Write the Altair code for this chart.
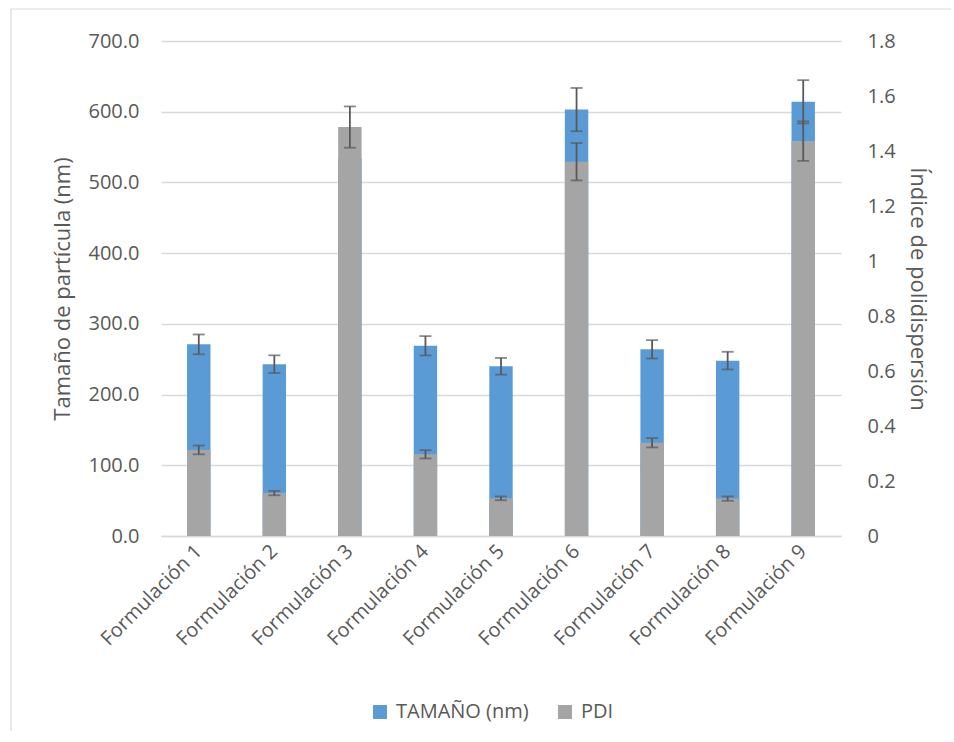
import altair as alt
import pandas as pd

# Mean particle size (nm) and polydispersity index per formulation, with their errors
formulaciones = [f"Formulación {i}" for i in range(1, 10)]
tamano = [271, 243, 534, 269, 240, 603, 264, 248, 614]
tamano_err = [14, 12.5, 30, 13.7, 11.8, 30.6, 13, 12.5, 30.6]
pdi = [0.313, 0.156, 1.487, 0.297, 0.137, 1.361, 0.339, 0.136, 1.436]
pdi_err = [0.016, 0.008, 0.075, 0.015, 0.007, 0.068, 0.017, 0.008, 0.072]

df = pd.DataFrame({
    "formulacion": formulaciones,
    "tam": tamano,
    "tam_lo": [v - e for v, e in zip(tamano, tamano_err)],
    "tam_hi": [v + e for v, e in zip(tamano, tamano_err)],
    "pdi": pdi,
    "pdi_lo": [v - e for v, e in zip(pdi, pdi_err)],
    "pdi_hi": [v + e for v, e in zip(pdi, pdi_err)],
})

W, H = 680, 495
FONT = "Open Sans"
TXT = "#595959"
GRID = "#d9d9d9"
ERR = "#595959"

x_enc = alt.X(
    "formulacion:N", sort=formulaciones,
    scale=alt.Scale(paddingInner=0.69, paddingOuter=0.345),
    axis=alt.Axis(title=None, labelAngle=-45, labelAlign="right", labelBaseline="middle",
                  labelPadding=12, ticks=False, domainColor=GRID, domainWidth=1.3,
                  labelFontSize=20, labelColor=TXT, labelFont=FONT, grid=False),
)

left_scale = alt.Scale(domain=[0, 700])
left_axis = alt.Axis(title="Tamaño de partícula (nm)", values=list(range(0, 701, 100)),
                     format=".1f", grid=True, gridColor=GRID, gridWidth=1.3, domain=False,
                     ticks=False, labelPadding=22, labelFontSize=20, labelColor=TXT,
                     labelFont=FONT, titleFont=FONT, titleFontSize=22, titleColor=TXT,
                     titleFontWeight="normal", titlePadding=14)

right_scale = alt.Scale(domain=[0, 1.8])
right_axis = alt.Axis(title="Índice de polidispersión", orient="right",
                      values=[0, 0.2, 0.4, 0.6, 0.8, 1.0, 1.2, 1.4, 1.6, 1.8],
                      format=".1~f", grid=False, domain=False, ticks=False, labelPadding=26,
                      labelFontSize=20, labelColor=TXT, labelFont=FONT, titleFont=FONT,
                      titleFontSize=22, titleColor=TXT, titleFontWeight="normal",
                      titlePadding=10)

color_enc = alt.Color(
    "serie:N",
    scale=alt.Scale(domain=["TAMAÑO (nm)", "PDI"], range=["#5b9bd5", "#a5a5a5"]),
    legend=alt.Legend(title=None, orient="none", legendX=209, legendY=661,
                      direction="horizontal", symbolType="square", symbolSize=196,
                      symbolStrokeWidth=0, labelFontSize=20, labelFont=FONT,
                      labelColor=TXT, columnPadding=26, labelOffset=6),
)

base = alt.Chart(df)


def series_layer(val, lo, hi, scale, axis, name):
    bars = base.transform_calculate(serie=f"'{name}'").mark_bar().encode(
        x=x_enc, y=alt.Y(f"{val}:Q", scale=scale, axis=axis), color=color_enc)
    stem = base.mark_rule(color=ERR, strokeWidth=1.8).encode(
        x=x_enc, y=alt.Y(f"{lo}:Q", scale=scale, axis=axis), y2=f"{hi}:Q")
    cap_lo = base.mark_tick(color=ERR, size=12, thickness=1.8, orient="horizontal").encode(
        x=x_enc, y=alt.Y(f"{lo}:Q", scale=scale, axis=axis))
    cap_hi = base.mark_tick(color=ERR, size=12, thickness=1.8, orient="horizontal").encode(
        x=x_enc, y=alt.Y(f"{hi}:Q", scale=scale, axis=axis))
    return alt.layer(bars, stem, cap_lo, cap_hi)


tam_layer = series_layer("tam", "tam_lo", "tam_hi", left_scale, left_axis, "TAMAÑO (nm)")
pdi_layer = series_layer("pdi", "pdi_lo", "pdi_hi", right_scale, right_axis, "PDI")

# light outer frame edges (top and left) around the figure
one = pd.DataFrame({"k": [0]})
frame_top = alt.Chart(one).mark_rule(color=GRID, strokeWidth=1.2, clip=False).encode(
    x=alt.value(-150), x2=alt.value(W + 110), y=alt.value(-32))
frame_left = alt.Chart(one).mark_rule(color=GRID, strokeWidth=1.2, clip=False).encode(
    x=alt.value(-150), y=alt.value(-32), y2=alt.value(H + 195))

chart = alt.layer(frame_top, frame_left, tam_layer, pdi_layer).resolve_scale(
    y="independent"
).properties(
    width=W, height=H, padding={"left": 10, "top": 8, "right": 0, "bottom": 0},
    background="white",
).configure_view(stroke=None)

chart.save("out.html", embed_options={"renderer": "svg", "actions": False})
